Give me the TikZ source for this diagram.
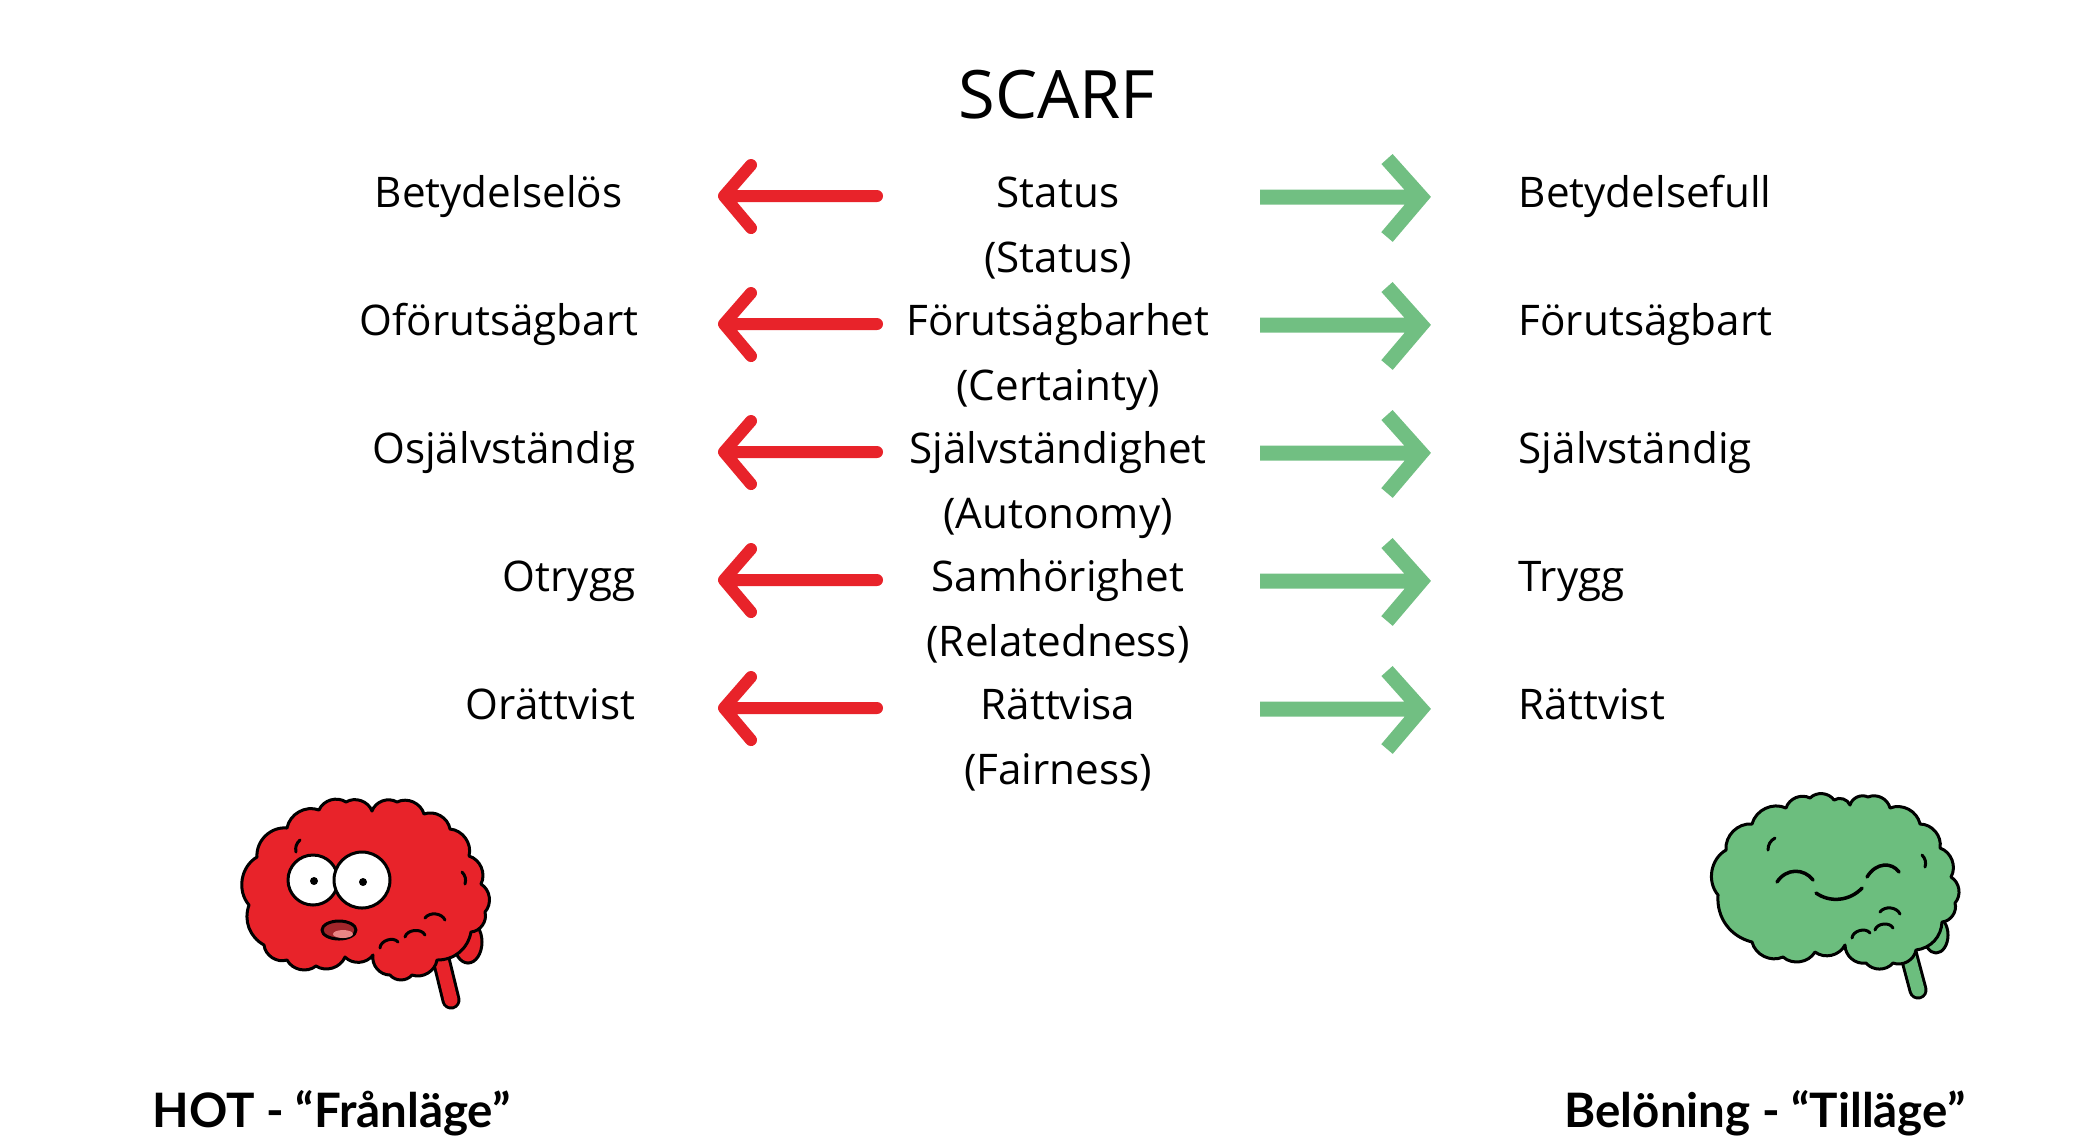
\documentclass[tikz,border=0pt]{standalone}
\usepackage{fontspec}
\setmainfont{Open Sans}
\newfontfamily\labelfont{Lato}
\definecolor{thrred}{HTML}{E8232A}
\definecolor{rewgreen}{HTML}{71BF82}
\definecolor{braingreen}{HTML}{6CBE7E}
\definecolor{mouthred}{HTML}{A3262B}
\definecolor{tongue}{HTML}{E88585}

\begin{document}
\begin{tikzpicture}[x=0.01cm, y=-0.01cm,
    redarrow/.style={draw=thrred, line width=0.12cm, line cap=round, line join=round},
    greenarrow/.style={draw=rewgreen, line width=0.15cm, line join=miter},
    brainline/.style={draw=black, line width=0.03cm, line join=round, line cap=round}]

        \useasboundingbox (0,0) rectangle (2094,1144);

        \node (title) [anchor=base, font=\fontsize{19}{23}\selectfont] at (1057,118) {SCARF};

        \begin{scope}[every node/.style={anchor=base east, inner sep=0pt, font=\fontsize{12}{14}\selectfont}]
          \node (l1) at (623,207) {Betydelselös};
          \node (l2) at (639,335) {Oförutsägbart};
          \node (l3) at (636,463) {Osjälvständig};
          \node (l4) at (636,591) {Otrygg};
          \node (l5) at (636,719) {Orättvist};
        \end{scope}

        \begin{scope}[every node/.style={anchor=base, inner sep=0pt, font=\fontsize{12}{14}\selectfont}]
          \node (c1) at (1058,207) {Status};
          \node (e1) at (1058,272) {(Status)};
          \node (c2) at (1058,335) {Förutsägbarhet};
          \node (e2) at (1058,400) {(Certainty)};
          \node (c3) at (1058,463) {Självständighet};
          \node (e3) at (1058,528) {(Autonomy)};
          \node (c4) at (1058,591) {Samhörighet};
          \node (e4) at (1058,656) {(Relatedness)};
          \node (c5) at (1058,719) {Rättvisa};
          \node (e5) at (1058,784) {(Fairness)};
        \end{scope}

        \begin{scope}[every node/.style={anchor=base west, inner sep=0pt, font=\fontsize{12}{14}\selectfont}]
          \node (r1) at (1518,207) {Betydelsefull};
          \node (r2) at (1518,335) {Förutsägbart};
          \node (r3) at (1518,463) {Självständig};
          \node (r4) at (1518,591) {Trygg};
          \node (r5) at (1518,719) {Rättvist};
        \end{scope}

        % arrows
        \coordinate (rt1) at (877,196); \coordinate (rh1) at (724,196);
        \coordinate (rt2) at (877,324); \coordinate (rh2) at (724,324);
        \coordinate (rt3) at (877,452); \coordinate (rh3) at (724,452);
        \coordinate (rt4) at (877,580); \coordinate (rh4) at (724,580);
        \coordinate (rt5) at (877,708); \coordinate (rh5) at (724,708);
        \coordinate (gt1) at (1260,197); \coordinate (gh1) at (1421,197);
        \coordinate (gt2) at (1260,325); \coordinate (gh2) at (1421,325);
        \coordinate (gt3) at (1260,453); \coordinate (gh3) at (1421,453);
        \coordinate (gt4) at (1260,581); \coordinate (gh4) at (1421,581);
        \coordinate (gt5) at (1260,709); \coordinate (gh5) at (1421,709);

        \draw[redarrow] (rt1) -- (rh1) -- +(27,-31) (rh1) -- +(27,32);
        \draw[redarrow] (rt2) -- (rh2) -- +(27,-31) (rh2) -- +(27,32);
        \draw[redarrow] (rt3) -- (rh3) -- +(27,-31) (rh3) -- +(27,32);
        \draw[redarrow] (rt4) -- (rh4) -- +(27,-31) (rh4) -- +(27,32);
        \draw[redarrow] (rt5) -- (rh5) -- +(27,-31) (rh5) -- +(27,32);

        \draw[greenarrow] (gt1) -- (gh1) (gh1) +(-34,-38) -- (gh1) -- +(-34,40);
        \draw[greenarrow] (gt2) -- (gh2) (gh2) +(-34,-38) -- (gh2) -- +(-34,40);
        \draw[greenarrow] (gt3) -- (gh3) (gh3) +(-34,-38) -- (gh3) -- +(-34,40);
        \draw[greenarrow] (gt4) -- (gh4) (gh4) +(-34,-38) -- (gh4) -- +(-34,40);
        \draw[greenarrow] (gt5) -- (gh5) (gh5) +(-34,-38) -- (gh5) -- +(-34,40);

        % red brain
        \draw[line width=0.19cm, line cap=round] (440,955) -- (451,1000);
        \draw[thrred, line width=0.13cm, line cap=round] (440,955) -- (451,1000);
        \filldraw[brainline, fill=thrred] (468,942) ellipse [x radius=14, y radius=21];
        \filldraw[brainline, fill=thrred] (249,905) to[bend left=50] (257,857) to[bend left=50] (287,828)
          to[bend left=50] (319,810) to[bend left=50] (346,802) to[bend left=50] (372,811)
          to[bend left=50] (397,802) to[bend left=50] (424,814) to[bend left=50] (450,829)
          to[bend left=50] (469,856) to[bend left=50] (481,884) to[bend left=50] (485,912)
          to[bend left=50] (471,932) to[bend left=40] (437,960) to[bend left=50] (412,975)
          to[bend left=50] (390,975) to[bend left=50] (373,955) to[bend left=50] (345,957)
          to[bend left=50] (316,966) to[bend left=50] (287,960) to[bend left=50] (264,945)
          to[bend left=40] (249,905) -- cycle;
        \draw[brainline] (380,948) to[bend left=70] (398,942);
        \draw[brainline] (405,937) to[bend left=70] (425,935);
        \draw[brainline] (425,918) to[bend left=60] (445,920);
        \draw[brainline] (300,840) to[bend right=30] (296,852);
        \draw[brainline] (462,872) to[bend left=30] (465,884);
        \filldraw[brainline, fill=white] (313,880) circle [radius=25];
        \filldraw[brainline, fill=white] (362,880) circle [radius=28];
        \fill (314,881) circle [radius=4];
        \fill (363,882) circle [radius=4];
        \filldraw[brainline, fill=mouthred] (339,930) ellipse [x radius=17, y radius=9];
        \fill[tongue] (343,934) ellipse [x radius=10, y radius=4];

        % green brain
        \draw[line width=0.19cm, line cap=round] (1906,945) -- (1918,990);
        \draw[braingreen, line width=0.13cm, line cap=round] (1906,945) -- (1918,990);
        \filldraw[brainline, fill=braingreen] (1936,935) ellipse [x radius=12, y radius=18];
        \filldraw[brainline, fill=braingreen] (1718,895) to[bend left=50] (1726,850) to[bend left=50] (1752,824)
          to[bend left=50] (1786,808) to[bend left=50] (1810,798) to[bend left=50] (1834,800)
          to[bend left=50] (1850,805) to[bend left=50] (1868,797) to[bend left=50] (1890,808)
          to[bend left=50] (1920,824) to[bend left=50] (1940,848) to[bend left=50] (1951,877)
          to[bend left=50] (1955,903) to[bend left=50] (1942,922) to[bend left=40] (1916,950)
          to[bend left=50] (1893,963) to[bend left=50] (1866,963) to[bend left=50] (1845,945)
          to[bend left=50] (1815,952) to[bend left=50] (1783,957) to[bend left=50] (1752,942)
          to[bend left=40] (1718,895) -- cycle;
        \draw[brainline] (1852,938) to[bend left=70] (1870,933);
        \draw[brainline] (1875,930) to[bend left=70] (1893,928);
        \draw[brainline] (1880,912) to[bend left=60] (1900,914);
        \draw[brainline] (1775,838) to[bend right=30] (1768,850);
        \draw[brainline] (1922,855) to[bend left=30] (1925,867);
        \draw[brainline, line width=0.035cm] (1777,882) .. controls (1786,868) and (1804,868) .. (1813,880);
        \draw[brainline, line width=0.035cm] (1867,877) .. controls (1876,862) and (1892,862) .. (1899,872);
        \draw[brainline, line width=0.035cm] (1816,893) .. controls (1830,903) and (1850,901) .. (1862,888);

        \begin{scope}[every node/.style={inner sep=0pt, font=\labelfont\bfseries\fontsize{13.5}{16}\selectfont}]
          \node (hot) [anchor=base west] at (152,1127) {HOT - “Frånläge”};
          \node (bel) [anchor=base east] at (1966,1127) {Belöning - “Tilläge”};
        \end{scope}

      \end{tikzpicture}
\end{document}
